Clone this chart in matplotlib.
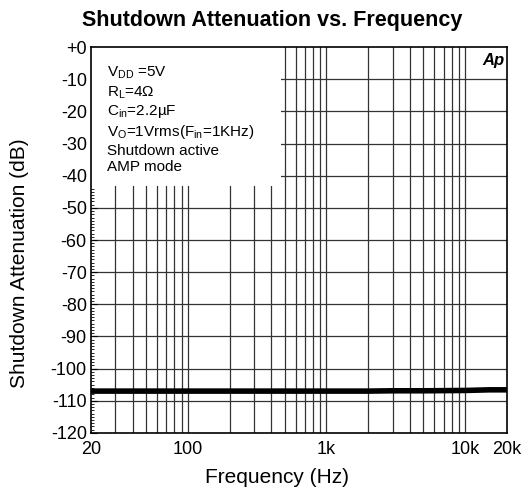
import matplotlib.pyplot as plt
import matplotlib.ticker as mticker
from matplotlib.patches import Rectangle

plt.rcParams["font.family"] = ["Liberation Sans", "DejaVu Sans"]

# Données
freq_hz = [20, 50, 100, 200, 500, 1000, 2000, 3000, 5000, 10000, 15000, 20000]
atten_db = [-107.0, -107.0, -107.0, -107.0, -107.0, -107.0, -107.0, -106.9, -106.9, -106.8, -106.6, -106.6]

y_ticks = list(range(0, -130, -10))
y_labels = ["+0"] + [str(v) for v in y_ticks[1:]]
x_ticks = [20, 100, 1000, 10000, 20000]
x_labels = ["20", "100", "1k", "10k", "20k"]
grid_freqs = [30, 40, 50, 60, 70, 80, 90, 100, 200, 300, 400, 500, 600, 700, 800, 900,
              1000, 2000, 3000, 4000, 5000, 6000, 7000, 8000, 9000, 10000]

fig = plt.figure(figsize=(5.29, 4.97), dpi=100)
ax = fig.add_axes([0.172, 0.129, 0.786, 0.776])
ax.set_xscale("log")
ax.set_xlim(20, 20000)
ax.set_ylim(-120, 0)

for f in grid_freqs:
    ax.axvline(f, color="#333333", linewidth=0.9, zorder=1)
for v in y_ticks[1:-1]:
    ax.axhline(v, color="#333333", linewidth=0.9, zorder=1)

# zone blanche de la légende
ax.add_patch(Rectangle((0, 0.64), 0.458, 0.36, transform=ax.transAxes,
                       facecolor="white", edgecolor="none", zorder=2))

ax.plot(freq_hz, atten_db, color="black", linewidth=4, zorder=3)

ax.set_yticks(y_ticks)
ax.set_yticklabels(y_labels, fontsize=13)
ax.yaxis.set_minor_locator(mticker.MultipleLocator(1))
ax.set_xticks(x_ticks)
ax.set_xticklabels(x_labels, fontsize=13)
ax.xaxis.set_minor_locator(mticker.NullLocator())
ax.tick_params(axis="y", which="major", direction="in", length=4, pad=3)
ax.tick_params(axis="y", which="minor", direction="in", length=2.5)
ax.tick_params(axis="x", which="major", direction="in", length=0, pad=6)
for s in ax.spines.values():
    s.set_linewidth(1.2)

note = ("V$_{\\mathregular{DD}}$ =5V\n"
        "R$_{\\mathregular{L}}$=4\u03a9\n"
        "C$_{\\mathregular{in}}$=2.2\u00b5F\n"
        "V$_{\\mathregular{O}}$=1Vrms(F$_{\\mathregular{in}}$=1KHz)\n"
        "Shutdown active\n"
        "AMP mode")
ax.text(0.038, 0.955, note, transform=ax.transAxes, fontsize=11, va="top", ha="left",
        linespacing=1.22, zorder=4)
ax.text(0.995, 0.985, "Ap", transform=ax.transAxes, fontsize=12, fontweight="bold",
        style="italic", va="top", ha="right", zorder=4)

ax.set_xlabel("Frequency (Hz)", fontsize=15)
ax.xaxis.set_label_coords(0.447, -0.09)
ax.set_ylabel("Shutdown Attenuation (dB)", fontsize=15)
ax.yaxis.set_label_coords(-0.15, 0.44)
fig.text(0.514, 0.958, "Shutdown Attenuation vs. Frequency", fontsize=15.5,
         fontweight="bold", ha="center", va="center")

fig.savefig("out.png", dpi=100)
